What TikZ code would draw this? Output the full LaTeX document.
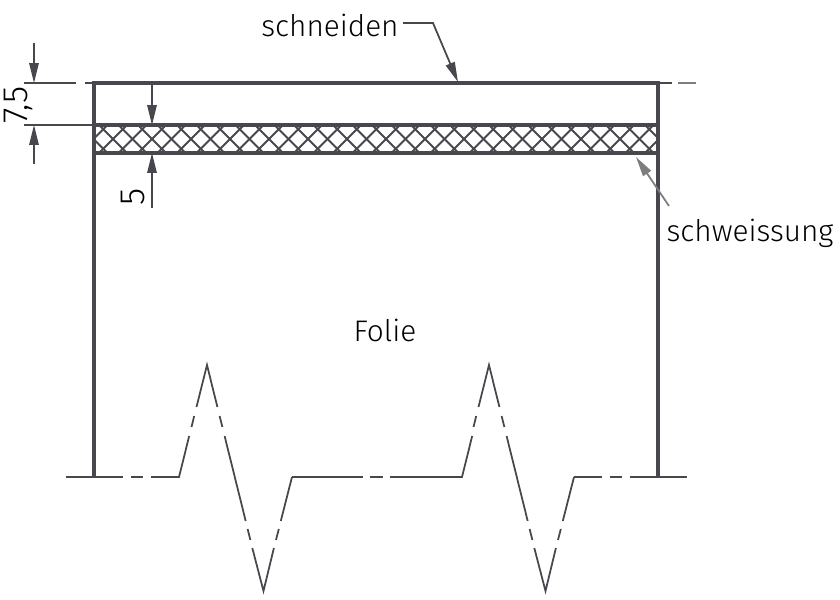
\documentclass[tikz,border=0pt]{standalone}
\usepackage{fontspec}
\setmainfont{Fira Sans Light}
\definecolor{steel}{RGB}{70,72,78}
\definecolor{fade}{RGB}{125,125,125}
\usetikzlibrary{arrows.meta}
\tikzset{
	outline/.style={steel, line width=3.2pt},
	thinline/.style={steel, line width=1.5pt},
	fadeline/.style={fade, line width=1.5pt},
	dimtip/.style={-{Stealth[length=17pt, width=8pt, inset=0pt]}},
	dimarrow/.style={thinline, dimtip},
	hatchline/.style={steel, line width=1.7pt},
	caption/.style={inner sep=0pt, font=\fontsize{25.4}{30}\selectfont},
	dimtext/.style={inner sep=0pt, rotate=90, font=\fontsize{30}{34}\selectfont},
}
\begin{document}
\begin{tikzpicture}[x=0.03cm, y=-0.03cm]
	\useasboundingbox (0,0) rectangle (840,600);
	\begin{scope}
		\clip (94,125) rectangle (658,153);
		\foreach \k in {-1,...,31} {
			\draw[hatchline] (79.5+\k*19.5,153) -- ++(28,-28);
			\draw[hatchline] (79.5+\k*19.5,125) -- ++(28,28);
		}
	\end{scope}
	\draw[outline] (94,477) -- (94,83) -- (658,83) -- (658,477);
	\draw[outline] (94,125) -- (658,125);
	\draw[outline] (94,153) -- (658,153);
	\draw[thinline] (24,83) -- (76,83);
	\draw[thinline] (85,83) -- (94,83);
	\draw[thinline] (24,125) -- (94,125);
	\draw[thinline] (658,83) -- (672,83);
	\draw[fadeline] (678,83) -- (696,83);
	\draw[dimarrow] (34,43) -- (34,83);
	\draw[dimarrow] (34,164) -- (34,125);
	\draw[dimarrow] (152,83) -- (152,125);
	\draw[dimarrow] (152,208) -- (152,153);
	\node[dimtext] (dimA) at (18,105) {7,5};
	\node[dimtext] (dimB) at (133,197) {5};
	\node[caption] (cut) at (330,25) {schneiden};
	\node[caption] (weld) at (750,233) {schweissung};
	\node[caption] (foil) at (385,330) {Folie};
	\coordinate (cutknee) at (433,23);
	\coordinate (cuttip) at (458,82);
	\coordinate (weldtail) at (669,206);
	\coordinate (weldtip) at (636,157);
	\draw[dimarrow] (403,23) -- (cutknee) -- (cuttip);
	\draw[fadeline, dimtip] (weldtail) -- (weldtip);
	\draw[thinline] (66,477) -- (123,477);
	\draw[thinline] (131,477) -- (143,477);
	\draw[thinline] (151,477) -- (179,477) -- (189.2,436);
	\draw[thinline] (292,477) -- (363,477);
	\draw[thinline] (370,477) -- (383,477);
	\draw[thinline] (390,477) -- (462,477) -- (472.2,436);
	\draw[thinline] (574,477) -- (602,477);
	\draw[thinline] (610,477) -- (622,477);
	\draw[thinline] (630,477) -- (687,477);
	\foreach \d in {0,282} {
		\draw[thinline, xshift=\d*0.03cm] (191.5,427) -- (194.2,416);
		\draw[thinline, xshift=\d*0.03cm] (196.5,407) -- (207,365) -- (217.4,407);
		\draw[thinline, xshift=\d*0.03cm] (219.6,416) -- (222.4,427);
		\draw[thinline, xshift=\d*0.03cm] (224.6,436) -- (245.7,521);
		\draw[thinline, xshift=\d*0.03cm] (247.6,529) -- (250.4,540);
		\draw[thinline, xshift=\d*0.03cm] (252.3,548) -- (263.5,591) -- (273.9,548);
		\draw[thinline, xshift=\d*0.03cm] (276,540) -- (278.8,529);
		\draw[thinline, xshift=\d*0.03cm] (280.8,521) -- (292,477);
	}
\end{tikzpicture}
\end{document}
